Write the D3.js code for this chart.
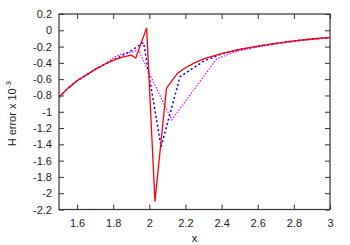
<!DOCTYPE html>
<html><head><meta charset="utf-8">
<script src="https://cdn.jsdelivr.net/npm/d3@7"></script>
<style>body{margin:0;background:#fff}svg{display:block}text{font-family:"Liberation Sans",Arial,sans-serif;font-size:11px;fill:#222}</style>
</head><body><svg id="c" width="350" height="245"></svg>
<script>
const xTicks=[1.6,1.8,2,2.2,2.4,2.6,2.8,3];
const yTicks=[0.2,0,-0.2,-0.4,-0.6,-0.8,-1,-1.2,-1.4,-1.6,-1.8,-2,-2.2];
const redX=[1.5,1.55,1.6,1.65,1.7,1.75,1.8,1.85,1.9,1.925,1.985,2.031,2.095,2.155,2.2,2.25,2.3,2.4,2.5,2.6,2.7,2.8,2.9,3.0];
const redY=[-0.82,-0.71,-0.62,-0.55,-0.48,-0.42,-0.37,-0.33,-0.305,-0.34,0.03,-2.1,-0.71,-0.53,-0.46,-0.40,-0.35,-0.285,-0.235,-0.195,-0.16,-0.13,-0.107,-0.088];
const blueX=[1.5,1.55,1.6,1.65,1.7,1.75,1.8,1.85,1.893,1.968,2.065,2.17,2.3,2.4,2.5,2.6,2.7,2.8,2.9,3.0];
const blueY=[-0.82,-0.71,-0.62,-0.55,-0.48,-0.42,-0.365,-0.31,-0.26,-0.15,-1.43,-0.57,-0.38,-0.29,-0.237,-0.197,-0.162,-0.132,-0.108,-0.089];
const magX=[1.5,1.55,1.6,1.65,1.7,1.75,1.8,1.84,1.9,1.94,2.0,2.124,2.373,2.45,2.5,2.6,2.7,2.8,2.9,3.0];
const magY=[-0.82,-0.71,-0.62,-0.55,-0.48,-0.42,-0.34,-0.295,-0.27,-0.24,-0.53,-1.1,-0.35,-0.285,-0.25,-0.205,-0.168,-0.137,-0.112,-0.092];

const svg=d3.select("#c");
const L=59,R=330,T=14,B=209.5;
const x=d3.scaleLinear().domain([1.5,3]).range([L,R]);
const y=d3.scaleLinear().domain([-2.2,0.2]).range([B,T]);
const fmt=d=>String(+d.toFixed(1));

const gB=svg.append("g").attr("transform",`translate(0,${B})`).call(d3.axisBottom(x).tickValues(xTicks).tickSizeInner(-5).tickSizeOuter(0).tickPadding(9.5).tickFormat(fmt));
const gT=svg.append("g").attr("transform",`translate(0,${T})`).call(d3.axisTop(x).tickValues(xTicks).tickSizeInner(-5).tickSizeOuter(0).tickFormat(""));
const gL=svg.append("g").attr("transform",`translate(${L},0)`).call(d3.axisLeft(y).tickValues(yTicks).tickSizeInner(-5).tickSizeOuter(0).tickPadding(7).tickFormat(fmt));
const gR=svg.append("g").attr("transform",`translate(${R},0)`).call(d3.axisRight(y).tickValues(yTicks).tickSizeInner(-5).tickSizeOuter(0).tickFormat(""));
[gB,gT,gL,gR].forEach(g=>{g.select(".domain").remove();g.selectAll("line").attr("stroke","#333");g.selectAll("text").attr("font-family","Liberation Sans, Arial, sans-serif").attr("font-size",11).attr("fill","#222");});

const line=d3.line().x(d=>x(d[0])).y(d=>y(d[1]));
svg.append("clipPath").attr("id","cp").append("rect").attr("x",L).attr("y",T).attr("width",R-L).attr("height",B-T);
const plot=svg.append("g").attr("clip-path","url(#cp)");
plot.append("path").datum(magX.map((v,i)=>[v,magY[i]])).attr("d",line).attr("fill","none").attr("stroke","#ff00ff").attr("stroke-width",1.2).attr("stroke-dasharray","1.5,1.5");
plot.append("path").datum(blueX.map((v,i)=>[v,blueY[i]])).attr("d",line).attr("fill","none").attr("stroke","#0000ff").attr("stroke-width",1.5).attr("stroke-dasharray","2,2.5");
plot.append("path").datum(redX.map((v,i)=>[v,redY[i]])).attr("d",line).attr("fill","none").attr("stroke","#ff0000").attr("stroke-width",1.3);

svg.append("rect").attr("x",L).attr("y",T).attr("width",R-L).attr("height",B-T).attr("fill","none").attr("stroke","#333").attr("stroke-width",1.2);

svg.append("text").attr("x",(L+R)/2).attr("y",242).attr("text-anchor","middle").text("x");
const yl=svg.append("text").attr("transform",`translate(16,${(T+B)/2+2}) rotate(-90)`).attr("text-anchor","middle");
yl.append("tspan").text("H error x 10");
yl.append("tspan").attr("dy",-5).attr("font-size",8).text("-3");
</script></body></html>
